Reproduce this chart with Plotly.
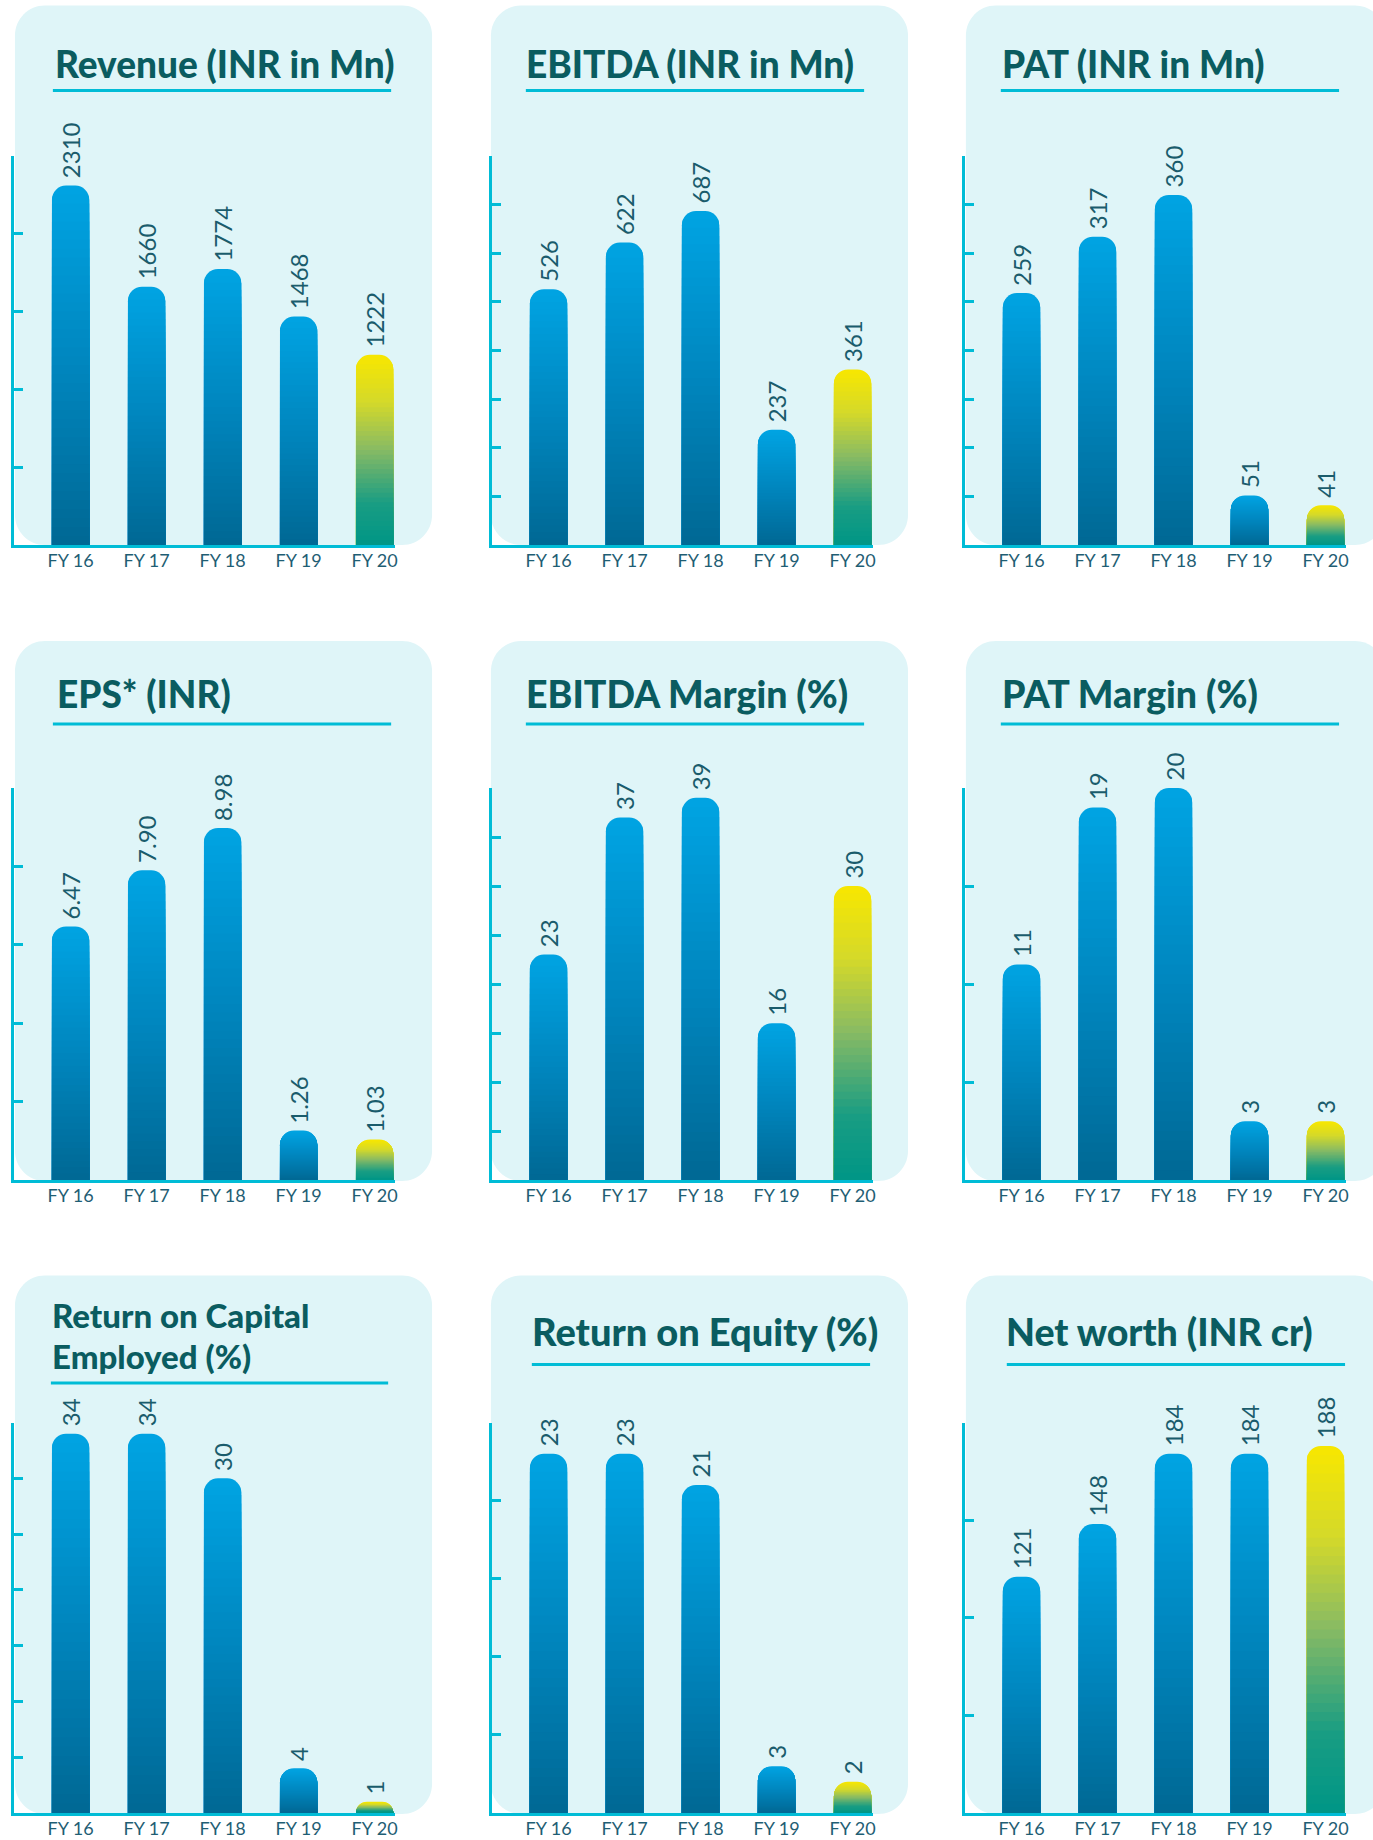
import plotly.graph_objects as go

# ---------------- data ----------------
categories = ["FY 16", "FY 17", "FY 18", "FY 19", "FY 20"]

revenue = [2310, 1660, 1774, 1468, 1222]
ebitda = [526, 622, 687, 237, 361]
pat = [259, 317, 360, 51, 41]
eps = [6.47, 7.90, 8.98, 1.26, 1.03]
ebitda_margin = [23, 37, 39, 16, 30]
pat_margin = [11, 19, 20, 3, 3]
roce = [34, 34, 30, 4, 1]
roe = [23, 23, 21, 3, 2]
net_worth = [121, 148, 184, 184, 188]

series = [revenue, ebitda, pat, eps, ebitda_margin, pat_margin, roce, roe, net_worth]
label_fmt = ["{:.0f}", "{:.0f}", "{:.0f}", "{:.2f}", "{:.0f}", "{:.0f}", "{:.0f}", "{:.0f}", "{:.0f}"]

titles = [
    ["Revenue (INR in Mn)"],
    ["EBITDA (INR in Mn)"],
    ["PAT (INR in Mn)"],
    ["EPS* (INR)"],
    ["EBITDA Margin (%)"],
    ["PAT Margin (%)"],
    ["Return on Capital", "Employed (%)"],
    ["Return on Equity (%)"],
    ["Net worth (INR cr)"],
]

y_max = [2500, 800, 400, 10, 40, 20, 35, 25, 200]
y_step = [500, 100, 50, 2, 5, 5, 5, 5, 50]

# ---------------- layout geometry (px) ----------------
W, H = 1373, 1840
axis_x = [14, 493, 967]
plot_w = 382
plot_rows = [(156, 545), (788, 1180), (1422.5, 1813)]
panel_cols = [(15, 433), (492, 910), (968, 1388)]
panel_rows = [(5.5, 545), (641, 1181), (1275.5, 1814)]
title_pos = [  # (x, [line centers], underline y, underline x0, x1, font size)
    (53, [63], 90.5, 53, 392, 37),
    (525, [63], 90.5, 527, 866, 37),
    (1002, [63], 90.5, 1003, 1342, 37),
    (55, [693], 724, 53, 392, 37),
    (525, [693], 724, 527, 866, 37.5),
    (1002, [693], 724, 1003, 1342, 37.5),
    (50, [1314.5, 1356], 1383, 51, 389, 33),
    (531, [1331], 1364.5, 533, 872, 38),
    (1006, [1331], 1364.5, 1009, 1348, 37.5),
]

CYAN = "#00BCD6"
PANEL = "#DFF5F8"
TITLE_C = "#0A5C60"
LABEL_C = "#1A5C6C"
TICK_C = "#1F5E74"

def px_x(x):
    return x / W

def px_y(y):
    return 1 - y / H

def lerp_color(stops, t):
    for (t0, c0), (t1, c1) in zip(stops[:-1], stops[1:]):
        if t0 <= t <= t1:
            f = (t - t0) / (t1 - t0) if t1 > t0 else 0
            c = [round(a + (b - a) * f) for a, b in zip(c0, c1)]
            return "rgb({},{},{})".format(*c)
    c = stops[-1][1]
    return "rgb({},{},{})".format(*c)

blue_stops = [(0.0, (0, 104, 148)), (0.5, (0, 134, 190)), (1.0, (0, 164, 227))]
hl_stops = [(0.0, (0, 150, 134)), (0.22, (25, 157, 131)), (0.5, (135, 186, 100)),
            (0.75, (212, 217, 42)), (1.0, (248, 231, 0))]

fig = go.Figure()
shapes = []
annotations = []
N = 40

for i, vals in enumerate(series):
    r, c = divmod(i, 3)
    idx = "" if i == 0 else str(i + 1)
    xa, ya = "x" + idx, "y" + idx

    # panel background
    x0, x1 = panel_cols[c]
    y0, y1 = panel_rows[r]
    rad = 30
    k = 0.5523 * rad
    P = lambda x, y: "{:.6f},{:.6f}".format(px_x(x), px_y(y))
    path = (
        "M " + P(x0 + rad, y0) + " L " + P(x1 - rad, y0)
        + " C " + P(x1 - rad + k, y0) + " " + P(x1, y0 + rad - k) + " " + P(x1, y0 + rad)
        + " L " + P(x1, y1 - rad)
        + " C " + P(x1, y1 - rad + k) + " " + P(x1 - rad + k, y1) + " " + P(x1 - rad, y1)
        + " L " + P(x0 + rad, y1)
        + " C " + P(x0 + rad - k, y1) + " " + P(x0, y1 - rad + k) + " " + P(x0, y1 - rad)
        + " L " + P(x0, y0 + rad)
        + " C " + P(x0, y0 + rad - k) + " " + P(x0 + rad - k, y0) + " " + P(x0 + rad, y0) + " Z"
    )
    shapes.append(dict(type="path", path=path, xref="paper", yref="paper",
                       fillcolor=PANEL, line=dict(width=0), layer="below"))

    # title + underline
    tx, tys, uy, ux0, ux1, fs = title_pos[i]
    for line, ty in zip(titles[i], tys):
        annotations.append(dict(text=line, x=px_x(tx), y=px_y(ty),
                                xref="paper", yref="paper", xanchor="left", yanchor="middle",
                                showarrow=False,
                                font=dict(family="Lato", size=fs, weight=900, color=TITLE_C)))
    shapes.append(dict(type="line", xref="paper", yref="paper",
                       x0=px_x(ux0), x1=px_x(ux1), y0=px_y(uy), y1=px_y(uy),
                       line=dict(color=CYAN, width=3)))

    # gradient bars (overlaid bands)
    for b in range(N):
        frac_top = (N - b) / N
        tmid = (N - b - 0.5) / N
        colors = [lerp_color(blue_stops, tmid)] * 4 + [lerp_color(hl_stops, tmid)]
        fig.add_trace(go.Bar(
            x=categories, y=[v * frac_top for v in vals], width=0.49,
            marker=dict(color=colors, line=dict(width=0), cornerradius=14),
            xaxis=xa, yaxis=ya, hoverinfo="skip", showlegend=False,
        ))

    # value labels
    for cat, v in zip(categories, vals):
        annotations.append(dict(text=label_fmt[i].format(v), x=cat, y=v, xref=xa, yref=ya,
                                textangle=-90, xanchor="center", yanchor="bottom",
                                yshift=5, showarrow=False,
                                font=dict(family="Lato", size=24, color=LABEL_C)))

    # axes
    ax0 = axis_x[c]
    top, bot = plot_rows[r]
    fig.layout["xaxis" + idx] = dict(
        domain=[px_x(ax0), px_x(ax0 + plot_w)], anchor=ya, type="category",
        range=[-0.745, 4.27], showline=True, linecolor=CYAN, linewidth=3,
        showgrid=False, zeroline=False, ticks="", ticklabelstandoff=-3,
        tickfont=dict(family="Lato", size=18, color=TICK_C), fixedrange=True,
    )
    fig.layout["yaxis" + idx] = dict(
        domain=[px_y(bot), px_y(top)], anchor=xa, range=[0, y_max[i]],
        showline=True, linecolor=CYAN, linewidth=2.5, showgrid=False, zeroline=False,
        ticks="inside", ticklen=9, tickwidth=2.5, tickcolor=CYAN,
        tick0=0, dtick=y_step[i], showticklabels=False, fixedrange=True,
    )

fig.update_layout(
    width=W, height=H, margin=dict(l=0, r=0, t=0, b=0),
    paper_bgcolor="white", plot_bgcolor="rgba(0,0,0,0)",
    barmode="overlay", shapes=shapes, annotations=annotations,
    showlegend=False,
)

fig.write_html("out.html", config={"displayModeBar": False},
               post_script="document.body.style.margin='0px';document.body.style.padding='0px';")
